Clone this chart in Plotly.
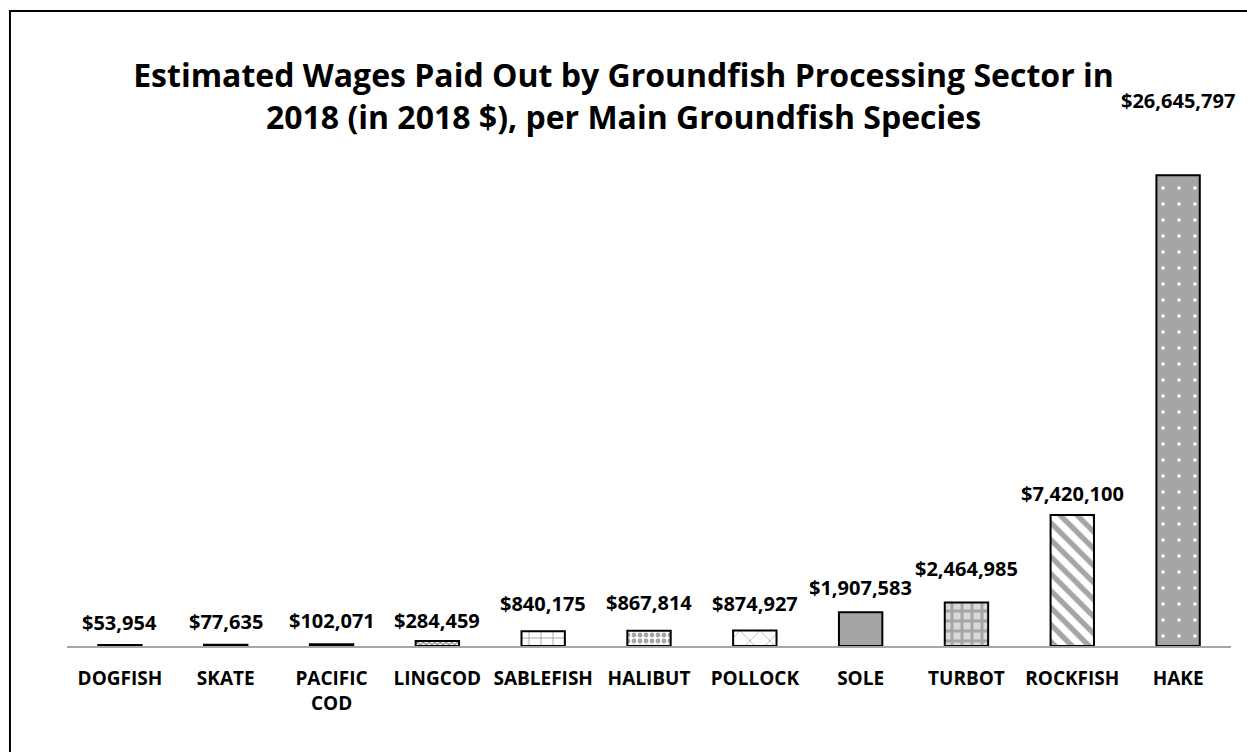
import plotly.graph_objects as go

categories = ["DOGFISH", "SKATE", "PACIFIC<br>COD", "LINGCOD", "SABLEFISH", "HALIBUT",
              "POLLOCK", "SOLE", "TURBOT", "ROCKFISH", "HAKE"]
wages = [53954, 77635, 102071, 284459, 840175, 867814, 874927, 1907583, 2464985, 7420100, 26645797]

# styling (per bar)
pat_shape = [".", ".", ".", "x", "+", ".", "x", ".", "+", "\\", "."]
pat_fg = ["#6E6E6E", "#6E6E6E", "#6E6E6E", "#8C8C8C", "#A5A5A5", "#A5A5A5", "#A5A5A5",
          "#A5A5A5", "#A5A5A5", "#A5A5A5", "#FFFFFF"]
pat_bg = ["#6E6E6E", "#6E6E6E", "#6E6E6E", "#FFFFFF", "#FFFFFF", "#FFFFFF", "#FFFFFF",
          "#A5A5A5", "#D9D9D9", "#FFFFFF", "#A5A5A5"]
pat_size = [8, 8, 8, 4, 12, 6, 14, 8, 10, 12, 16]
pat_sol = [0.3, 0.3, 0.3, 0.5, 0.15, 0.5, 0.1, 0.3, 0.5, 0.45, 0.04]
label_shift = [23, 23, 24, 20, 28, 28, 27, 25, 34, 21, 75]

FONT = "Open Sans"

fig = go.Figure()
fig.add_trace(go.Bar(
    x=categories, y=wages,
    marker=dict(
        color="#A5A5A5",
        line=dict(color="#000000", width=2),
        pattern=dict(shape=pat_shape, fgcolor=pat_fg, bgcolor=pat_bg,
                     size=pat_size, solidity=pat_sol, fillmode="replace", fgopacity=1),
    ),
    hoverinfo="x+y",
))

for c, v, s in zip(categories, wages, label_shift):
    fig.add_annotation(x=c, y=v, text="<b>${:,}</b>".format(v), showarrow=False,
                       yanchor="middle", yshift=s,
                       font=dict(family=FONT, size=20, color="#000000"))

fig.add_shape(type="rect", xref="paper", yref="paper",
              x0=-0.049, x1=1.1, y0=-0.3, y1=1.198,
              line=dict(color="#000000", width=2), fillcolor="rgba(0,0,0,0)", layer="below")

fig.update_layout(
    width=1247, height=752,
    margin=dict(l=67, r=16, t=116, b=106, autoexpand=False),
    paper_bgcolor="#FFFFFF", plot_bgcolor="#FFFFFF",
    bargap=0.59,
    showlegend=False,
    title=dict(text="<b>Estimated Wages Paid Out by Groundfish Processing Sector in<br>2018 (in 2018 $), per Main Groundfish Species</b>",
               x=0.5, xanchor="center", y=0.8844, yanchor="middle",
               font=dict(family=FONT, size=32, color="#000000")),
    font=dict(family=FONT, color="#000000"),
    xaxis=dict(showline=True, linecolor="#A6A6A6", linewidth=2, ticks="",
               showgrid=False, ticklabelstandoff=14, range=[-0.5, 10.5],
               automargin=False,
               tickfont=dict(family=FONT, size=19, color="#000000")),
    yaxis=dict(visible=False, range=[0, 30000000], showgrid=False, zeroline=False),
)
fig.update_xaxes(tickprefix="<b>", ticksuffix="</b>")

fig.write_html("out.html", config={"displayModeBar": False},
               post_script="document.body.style.margin='0';document.body.style.overflow='hidden';")
